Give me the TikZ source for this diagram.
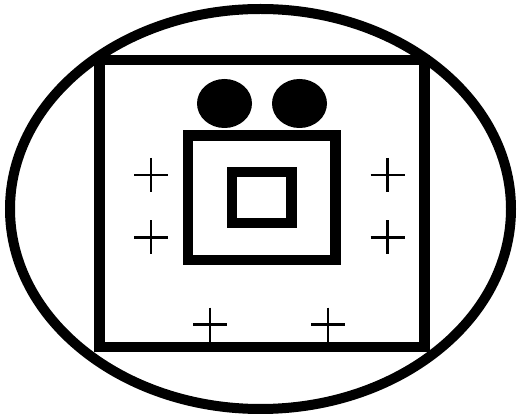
\documentclass[tikz,border=0pt]{standalone}
\usepackage{tikz}

\begin{document}
\begin{tikzpicture}[x=1pt, y=-1pt,
  frame/.style={draw=black, line width=10.5pt, line join=miter},
  spot/.style={fill=black},
  plus/.style={draw=black, line width=2.7pt}
]
  \useasboundingbox (0,0) rectangle (517,414);
  % outer ellipse and box
  \draw[frame, line width=10pt] (260.5,209) ellipse [x radius=250.5pt, y radius=200pt];
  \draw[frame] (99.7,60) rectangle (424.5,347);
  % two dots on top of the middle box
  \fill[spot] (224.5,103.5) ellipse [x radius=27.5pt, y radius=24.5pt];
  \fill[spot] (299.5,103.5) ellipse [x radius=27.5pt, y radius=24.5pt];
  % middle and inner box
  \draw[frame] (188,135.3) rectangle (335.5,260);
  \draw[frame] (232,172) rectangle (291.3,222.8);
  % plus signs
  \foreach \px/\py in {151/175, 151/237.5, 387.5/175, 387.5/237.5, 210/324.5, 328/324.5} {
    \draw[plus] (\px-17,\py) -- (\px+17,\py);
    \draw[plus] (\px,\py-17) -- (\px,\py+17);
  }
\end{tikzpicture}
\end{document}
